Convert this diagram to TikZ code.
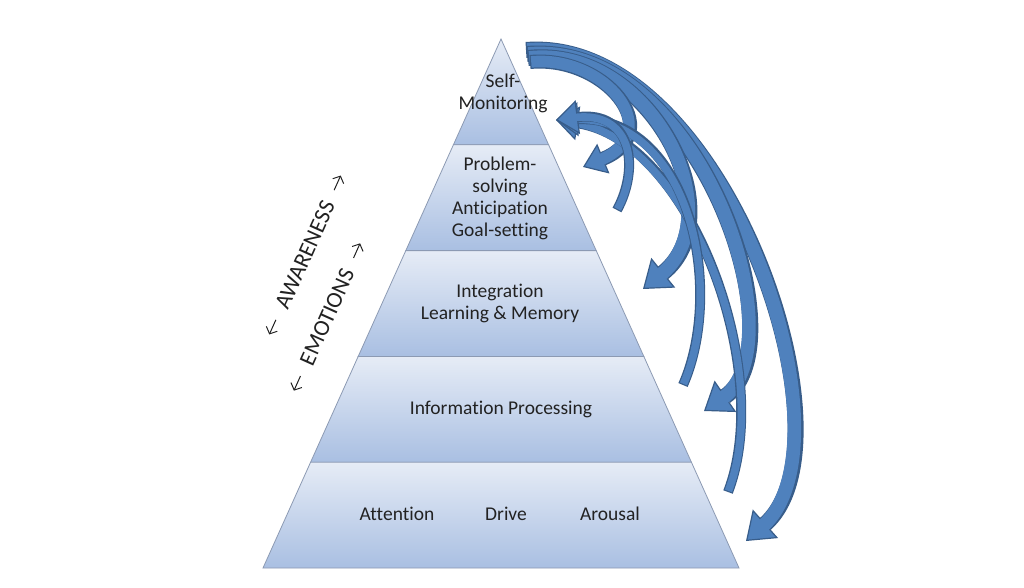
\documentclass[tikz,border=0pt]{standalone}
\usepackage{fontspec}
\setmainfont{Carlito}[Ligatures={NoCommon,NoRequired,NoContextual}]
\usetikzlibrary{arrows.meta,calc}

\definecolor{bandtop}{HTML}{E6ECF6}
\definecolor{bandbot}{HTML}{A9BFE2}
\definecolor{bandline}{HTML}{8C9AB3}
\definecolor{textgray}{HTML}{222222}
\definecolor{arrowblue}{HTML}{4F81BD}
\definecolor{arrowline}{HTML}{385D8A}

\tikzset{
    tier/.style={draw=bandline, line width=0.8pt, top color=bandtop, bottom color=bandbot},
    tiertext/.style={font=\fontsize{19.5}{22}\selectfont, text=textgray, align=center},
    sidetext/.style={font=\fontsize{23}{26}\selectfont, text=textgray, rotate=65.8, inner sep=0pt},
    sidearrow/.style={draw=textgray, line width=1pt, -{Straight Barb[length=5.5pt,width=12pt]}},
    downflow/.style={draw=arrowline, line width=16pt,
        -{Triangle[width=38pt,length=26pt,fill=arrowblue,line width=1.2pt]},
        postaction={draw=arrowblue, line width=13.6pt, -, shorten >=22pt, shorten <=1.2pt}},
    downflow small/.style={draw=arrowline, line width=14pt,
        -{Triangle[width=32pt,length=22pt,fill=arrowblue,line width=1.2pt]},
        postaction={draw=arrowblue, line width=11.6pt, -, shorten >=18pt, shorten <=1.2pt}},
    upflow/.style={draw=arrowline, line width=10pt,
        -{Triangle[width=34pt,length=22pt,fill=arrowblue,line width=1.2pt]},
        postaction={draw=arrowblue, line width=7.6pt, -, shorten >=18pt, shorten <=1.2pt}}
}

\begin{document}
\begin{tikzpicture}[x=1pt, y=-1pt]
    \useasboundingbox[fill=white] (0,0) rectangle (1024,588);

    % Define the corners of the pyramid levels
    \coordinate (T) at (501,39);
    \coordinate (L1) at (453.4,144.8);
    \coordinate (R1) at (548.6,144.8);
    \coordinate (L2) at (405.8,250.6);
    \coordinate (R2) at (596.2,250.6);
    \coordinate (L3) at (358.2,356.4);
    \coordinate (R3) at (643.8,356.4);
    \coordinate (L4) at (310.6,462.2);
    \coordinate (R4) at (691.4,462.2);
    \coordinate (L5) at (263,568);
    \coordinate (R5) at (739,568);

    % Draw the levels, top to bottom
    \path[tier] (T) -- (R1) -- (L1) -- cycle;
    \path[tier] (L1) -- (R1) -- (R2) -- (L2) -- cycle;
    \path[tier] (L2) -- (R2) -- (R3) -- (L3) -- cycle;
    \path[tier] (L3) -- (R3) -- (R4) -- (L4) -- cycle;
    \path[tier] (L4) -- (R4) -- (R5) -- (L5) -- cycle;

    % Labels of the levels
    \node[tiertext] (selfmon) at (503,93) {Self-\\Monitoring};
    \node[tiertext] (problem) at (500,198) {Problem-\\solving\\Anticipation\\Goal-setting};
    \node[tiertext] (integr) at (500,303) {Integration\\Learning \& Memory};
    \node[tiertext] (infoproc) at (501,409) {Information Processing};
    \node[tiertext] (attention) at (397,514) {Attention};
    \node[tiertext] (drive) at (506,514) {Drive};
    \node[tiertext] (arousal) at (610,514) {Arousal};

    % Labels along the left side
    \node[sidetext] (aware) at (305,255) {AWARENESS};
    \node[sidetext] (emot) at (327,317) {EMOTIONS};
    \draw[sidearrow] ($(aware.west)!-13pt!(aware.east)$) -- ($(aware.west)!-29pt!(aware.east)$);
    \draw[sidearrow] ($(aware.east)!-13pt!(aware.west)$) -- ($(aware.east)!-29pt!(aware.west)$);
    \draw[sidearrow] ($(emot.west)!-13pt!(emot.east)$) -- ($(emot.west)!-29pt!(emot.east)$);
    \draw[sidearrow] ($(emot.east)!-13pt!(emot.west)$) -- ($(emot.east)!-29pt!(emot.west)$);

    % Ends of the feedback arrows
    \coordinate (src1) at (530,62);
    \coordinate (src2) at (528,58);
    \coordinate (src3) at (527,54);
    \coordinate (src4) at (526,50);
    \coordinate (tip1) at (583,167);
    \coordinate (tip2) at (643,289);
    \coordinate (tip3) at (704,411);
    \coordinate (tip4) at (746,541);
    \coordinate (tail1) at (617,210);
    \coordinate (tail2) at (683,385);
    \coordinate (tail3) at (728,492);
    \coordinate (sink) at (556,120);

    % Arrows from the top down to each level
    \draw[downflow] (src4) .. controls (720,35) and (860,440) .. (tip4);
    \draw[downflow] (src3) .. controls (700,40) and (800,345) .. (tip3);
    \draw[downflow] (src2) .. controls (650,45) and (735,215) .. (tip2);
    \draw[downflow small] (src1) .. controls (605,55) and (668,132) .. (tip1);

    % Arrows from the levels back up to self-monitoring
    \draw[upflow] (tail3) .. controls (775,370) and (690,140) .. (sink);
    \draw[upflow] (tail2) .. controls (725,290) and (690,115) .. (sink);
    \draw[upflow] (tail1) .. controls (640,168) and (632,110) .. (sink);
\end{tikzpicture}
\end{document}
